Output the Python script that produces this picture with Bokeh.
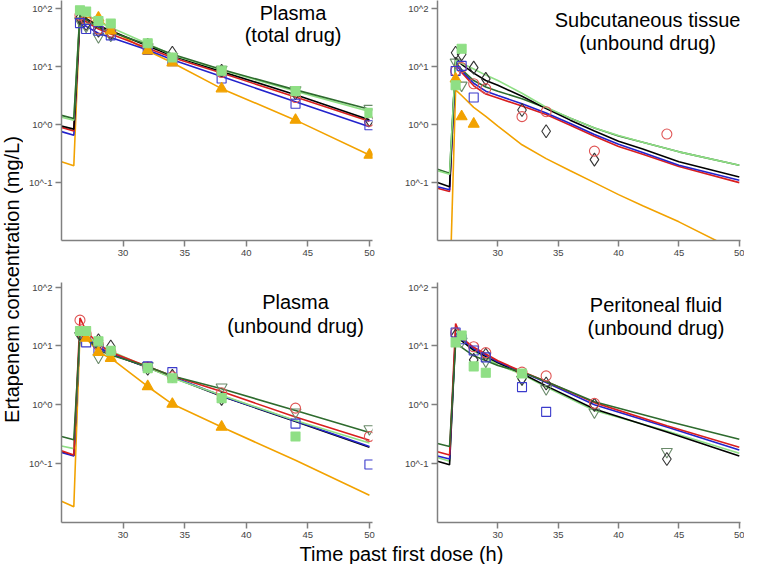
import math
from bokeh.plotting import figure
from bokeh.models import Range1d, FixedTicker, CustomJSTickFormatter, Label
from bokeh.layouts import row, column
from bokeh.embed import file_html
from bokeh.resources import INLINE

FONT = "Liberation Sans"

X_TICKS = [30, 35, 40, 45, 50]
Y_TICKS = [0.1, 1, 10, 100]

# ---------------- Plasma (total drug) ----------------
PT_CURVE_T = [25, 26, 26.5, 27, 28, 29, 32, 34, 38, 44, 50]
PT_DKGREEN = [1.45, 1.28, 85, 65, 48, 40, 24, 16.5, 9.0, 4.0, 1.85]
PT_LTGREEN = [1.35, 1.2, 95, 82, 60, 48, 25, 16, 8.8, 3.8, 1.7]
PT_BLACK = [0.95, 0.84, 80, 68, 52, 42, 23, 15.5, 8.3, 3.3, 1.22]
PT_RED = [0.9, 0.78, 75, 60, 45, 37, 21, 14.5, 7.8, 3.0, 1.15]
PT_BLUE = [0.76, 0.66, 65, 50, 38, 32, 19.5, 13.2, 6.8, 2.5, 0.92]
PT_ORANGE = [0.23, 0.195, 75, 72, 68, 44, 19, 11.8, 4.2, 1.2, 0.3]

PT_OBS_T = [26.5, 27, 28, 29, 32, 34, 38, 44, 50]
PT_OBS_LTGREEN = [95, 90, 62, 56, 25.5, 14.5, 8.6, 3.8, 1.6]
PT_OBS_BLUE = [57, 45, 42, 35, 19.5, 12.5, 6.3, 2.3, 0.98]
PT_OBS_RED = [78, 65, 45, 40, 22, 14, 8, 2.95, 1.15]
PT_OBS_BLACK = [70, 55, 42, 38, 24, 17.5, 8.5, 3.5, 1.2]
PT_OBS_DKGREEN = [62, 50, 33, 35, 22, 15, 9, 4, 1.9]
PT_OBS_ORANGE_T = [28, 29, 32, 34, 38, 44, 50]
PT_OBS_ORANGE = [70, 42, 19, 11.8, 4.2, 1.2, 0.3]

# ---------------- Subcutaneous tissue (unbound) ----------------
SC_CURVE_T = [25, 26, 26.5, 27, 28, 29, 30, 32, 34, 36, 38, 40, 42, 45, 50]
SC_LTGREEN = [0.16, 0.14, 13, 11.5, 9.2, 7.2, 5.8, 3.5, 2.0, 1.3, 0.88, 0.65, 0.5, 0.34, 0.2]
SC_DKGREEN = [0.17, 0.145, 12, 9.0, 5.8, 4.5, 3.8, 2.8, 1.95, 1.3, 0.88, 0.64, 0.5, 0.34, 0.2]
SC_BLACK = [0.1, 0.085, 14.5, 11, 7.8, 5.8, 4.8, 3.1, 1.9, 1.2, 0.78, 0.52, 0.38, 0.23, 0.125]
SC_BLUE = [0.085, 0.075, 11, 8.5, 5.2, 3.8, 3.2, 2.3, 1.6, 1.05, 0.68, 0.46, 0.33, 0.2, 0.11]
SC_RED = [0.08, 0.07, 12, 8.0, 4.7, 3.4, 2.9, 2.1, 1.5, 0.98, 0.63, 0.42, 0.31, 0.19, 0.1]
SC_ORANGE = [0.001, 0.001, 4.0, 3.2, 2.0, 1.4, 0.95, 0.45, 0.26, 0.16, 0.1, 0.062, 0.04, 0.021, 0.0063]

SC_OBS_BLACK_T = [26.5, 27, 28, 29, 32, 34, 38]
SC_OBS_BLACK = [17.5, 16.5, 9.7, 6.2, 1.8, 0.77, 0.25]
SC_OBS_RED_T = [26.5, 27, 28, 29, 32, 34, 38, 44]
SC_OBS_RED = [8.5, 9.7, 5.1, 4.2, 1.38, 1.68, 0.35, 0.69]
SC_OBS_BLUE_T = [26.5, 27, 28]
SC_OBS_BLUE = [8.5, 10.4, 2.95]
SC_OBS_LTGREEN_T = [26.5, 27]
SC_OBS_LTGREEN = [4.8, 20.5]
SC_OBS_ORANGE_T = [26.5, 27, 28]
SC_OBS_ORANGE = [6.2, 1.38, 1.03]
SC_OBS_DKGREEN_T = [26.5, 27]
SC_OBS_DKGREEN = [12, 4.8]

# ---------------- Plasma (unbound drug) ----------------
PU_CURVE_T = [25, 26, 26.5, 27, 28, 29, 32, 34, 38, 44, 50]
PU_DKGREEN = [0.29, 0.255, 18, 14, 8.5, 7.0, 4.5, 3.1, 1.87, 0.8, 0.34]
PU_LTGREEN = [0.2, 0.18, 17, 15, 10.5, 8.2, 4.3, 2.85, 1.45, 0.54, 0.225]
PU_BLACK = [0.16, 0.138, 17, 14, 9.5, 7.3, 4.3, 2.95, 1.4, 0.52, 0.19]
PU_BLUE = [0.155, 0.135, 17, 14, 9.5, 7.3, 4.4, 3.0, 1.42, 0.53, 0.195]
PU_RED = [0.165, 0.14, 30, 18, 10.8, 7.8, 4.5, 3.1, 1.68, 0.62, 0.25]
PU_ORANGE = [0.023, 0.0185, 16, 13.6, 7.8, 6.2, 2.05, 1.03, 0.42, 0.114, 0.029]

PU_OBS_RED_T = [26.5, 27, 28, 29, 32, 34, 38, 44, 50]
PU_OBS_RED = [27.5, 16, 10.5, 8.0, 4.4, 3.0, 1.6, 0.88, 0.29]
PU_OBS_LTGREEN_T = [26.5, 27, 28, 29, 32, 34, 38, 44]
PU_OBS_LTGREEN = [18, 18, 12, 8.3, 4.2, 2.83, 1.3, 0.29]
PU_OBS_BLUE_T = [27, 28, 32, 34, 44, 50]
PU_OBS_BLUE = [11.5, 9.0, 4.5, 3.6, 0.48, 0.097]
PU_OBS_BLACK_T = [26.5, 28, 29, 32, 34, 38]
PU_OBS_BLACK = [16, 12.5, 9.8, 4.1, 3.1, 1.26]
PU_OBS_DKGREEN_T = [26.5, 28, 32, 38, 44, 50]
PU_OBS_DKGREEN = [15, 6.4, 4.6, 1.99, 0.75, 0.39]
PU_OBS_ORANGE_T = [27, 28, 29, 32, 34, 38]
PU_OBS_ORANGE = [13.6, 7.8, 6.2, 2.05, 1.03, 0.42]

# ---------------- Peritoneal fluid (unbound drug) ----------------
PF_CURVE_T = [25, 26, 26.5, 27, 28, 30, 32, 34, 38, 44, 50]
PF_DKGREEN = [0.22, 0.196, 10.8, 9.5, 6.8, 4.66, 3.6, 2.5, 1.13, 0.53, 0.26]
PF_RED = [0.16, 0.14, 24, 13.8, 9.5, 5.6, 3.7, 2.5, 1.09, 0.44, 0.19]
PF_BLUE = [0.135, 0.12, 16.7, 13, 9.0, 5.4, 3.6, 2.4, 1.0, 0.42, 0.17]
PF_BLACK = [0.11, 0.096, 14.7, 12.2, 8.5, 5.2, 3.4, 2.1, 0.85, 0.345, 0.135]
PF_LTGREEN = [0.127, 0.11, 15.7, 12.5, 8.2, 4.8, 3.3, 2.0, 0.8, 0.36, 0.15]

PF_OBS_RED_T = [26.5, 28, 29, 32, 34, 38]
PF_OBS_RED = [16.7, 9.7, 7.7, 3.6, 3.1, 1.06]
PF_OBS_BLUE_T = [26.5, 27, 28, 29, 32, 34]
PF_OBS_BLUE = [17, 13, 8.4, 6.4, 2.0, 0.76]
PF_OBS_LTGREEN_T = [26.5, 27, 28, 29, 32]
PF_OBS_LTGREEN = [11.5, 15.1, 4.5, 3.5, 3.4]
PF_OBS_BLACK_T = [26.5, 28, 29, 32, 34, 38, 44]
PF_OBS_BLACK = [15, 5.8, 7.1, 2.8, 2.3, 1.0, 0.12]
PF_OBS_DKGREEN_T = [27, 29, 32, 34, 38, 44]
PF_OBS_DKGREEN = [12, 5.5, 2.7, 1.87, 0.75, 0.16]

# ---------------- styles ----------------
LINE_COL = {
    "black": "#000000", "red": "#d91e1e", "blue": "#2323cc",
    "dkgreen": "#2e6b2e", "ltgreen": "#8fdf85", "orange": "#f2a200",
}
MARK = {
    "black": dict(marker="diamond", size=13, fill_color=None, line_color="#333333"),
    "red": dict(marker="circle", size=10, fill_color=None, line_color="#e05555"),
    "blue": dict(marker="square", size=9, fill_color=None, line_color="#3b3bcc"),
    "dkgreen": dict(marker="inverted_triangle", size=11, fill_color=None, line_color="#6a8a6a"),
    "ltgreen": dict(marker="square", size=9, fill_color="#8fdf85", line_color="#8fdf85"),
    "orange": dict(marker="triangle", size=11, fill_color="#f2a200", line_color="#f2a200"),
}


def make_panel(w, h, bl, br, bt, bb, xend, ytop):
    p = figure(width=w, height=h, y_axis_type="log",
               x_range=Range1d(25, xend), y_range=Range1d(0.01, ytop),
               output_backend="svg", toolbar_location=None, title=None,
               min_border_left=bl, min_border_right=br,
               min_border_top=bt, min_border_bottom=bb)
    p.outline_line_color = None
    p.xgrid.visible = False
    p.ygrid.visible = False
    p.xaxis.ticker = FixedTicker(ticks=X_TICKS, minor_ticks=[])
    p.yaxis.ticker = FixedTicker(ticks=Y_TICKS, minor_ticks=[])
    p.yaxis.formatter = CustomJSTickFormatter(
        code="const e = Math.round(Math.log10(tick)); return '10^' + (e < 0 ? '-' + (-e) : e);")
    for ax in (p.xaxis[0], p.yaxis[0]):
        ax.axis_line_color = "#808080"
        ax.axis_line_width = 1.5
        ax.major_tick_line_color = "#808080"
        ax.major_tick_line_width = 1.5
        ax.major_tick_out = 6
        ax.major_tick_in = 0
        ax.minor_tick_line_color = None
        ax.major_label_text_font = FONT
        ax.major_label_text_font_size = "9.5px"
        ax.major_label_text_color = "#444444"
        ax.major_label_standoff = 3
    return p


def add_curves(p, t, curves):
    for key, vals in curves:
        p.line(t, vals, line_color=LINE_COL[key], line_width=1.6)


def add_points(p, pts):
    for key, t, vals in pts:
        p.scatter(t, vals, line_width=1.1, **MARK[key])


def add_title(p, lines):
    for txt, x, y in lines:
        p.add_layout(Label(x=x, y=y, text=txt, text_align="center", text_baseline="middle",
                           text_font=FONT, text_font_size="20px", text_color="#000000"))


# Top-left
tl = make_panel(369, 268, 38, 20, 0, 28, 50.25, 140)
add_curves(tl, PT_CURVE_T, [("orange", PT_ORANGE), ("blue", PT_BLUE), ("red", PT_RED),
                            ("black", PT_BLACK), ("ltgreen", PT_LTGREEN), ("dkgreen", PT_DKGREEN)])
add_points(tl, [("dkgreen", PT_OBS_T, PT_OBS_DKGREEN), ("black", PT_OBS_T, PT_OBS_BLACK),
                ("red", PT_OBS_T, PT_OBS_RED), ("blue", PT_OBS_T, PT_OBS_BLUE),
                ("orange", PT_OBS_ORANGE_T, PT_OBS_ORANGE), ("ltgreen", PT_OBS_T, PT_OBS_LTGREEN)])
add_title(tl, [("Plasma", 43.8, 85), ("(total drug)", 43.8, 35)])

# Top-right
tr = make_panel(352, 268, 45, 4, 0, 28, 50.1, 140)
add_curves(tr, SC_CURVE_T, [("orange", SC_ORANGE), ("red", SC_RED), ("blue", SC_BLUE),
                            ("dkgreen", SC_DKGREEN), ("black", SC_BLACK), ("ltgreen", SC_LTGREEN)])
add_points(tr, [("dkgreen", SC_OBS_DKGREEN_T, SC_OBS_DKGREEN), ("black", SC_OBS_BLACK_T, SC_OBS_BLACK),
                ("red", SC_OBS_RED_T, SC_OBS_RED), ("blue", SC_OBS_BLUE_T, SC_OBS_BLUE),
                ("orange", SC_OBS_ORANGE_T, SC_OBS_ORANGE), ("ltgreen", SC_OBS_LTGREEN_T, SC_OBS_LTGREEN)])
add_title(tr, [("Subcutaneous tissue", 42.4, 64), ("(unbound drug)", 42.4, 26)])

# Bottom-left
bl = make_panel(369, 276, 38, 20, 14, 22, 50.25, 120)
add_curves(bl, PU_CURVE_T, [("orange", PU_ORANGE), ("black", PU_BLACK), ("blue", PU_BLUE),
                            ("ltgreen", PU_LTGREEN), ("red", PU_RED), ("dkgreen", PU_DKGREEN)])
add_points(bl, [("dkgreen", PU_OBS_DKGREEN_T, PU_OBS_DKGREEN), ("black", PU_OBS_BLACK_T, PU_OBS_BLACK),
                ("red", PU_OBS_RED_T, PU_OBS_RED), ("blue", PU_OBS_BLUE_T, PU_OBS_BLUE),
                ("orange", PU_OBS_ORANGE_T, PU_OBS_ORANGE), ("ltgreen", PU_OBS_LTGREEN_T, PU_OBS_LTGREEN)])
add_title(bl, [("Plasma", 44.0, 55), ("(unbound drug)", 44.0, 22)])

# Bottom-right
br = make_panel(352, 276, 45, 4, 4, 22, 50.1, 120)
add_curves(br, PF_CURVE_T, [("ltgreen", PF_LTGREEN), ("black", PF_BLACK), ("blue", PF_BLUE),
                            ("red", PF_RED), ("dkgreen", PF_DKGREEN)])
add_points(br, [("dkgreen", PF_OBS_DKGREEN_T, PF_OBS_DKGREEN), ("black", PF_OBS_BLACK_T, PF_OBS_BLACK),
                ("red", PF_OBS_RED_T, PF_OBS_RED), ("blue", PF_OBS_BLUE_T, PF_OBS_BLUE),
                ("ltgreen", PF_OBS_LTGREEN_T, PF_OBS_LTGREEN)])
add_title(br, [("Peritoneal fluid", 43.1, 50), ("(unbound drug)", 43.1, 20)])

# Shared axis titles
ylab = figure(width=23, height=544, x_range=Range1d(0, 1), y_range=Range1d(0, 1),
              x_axis_location=None, y_axis_location=None, output_backend="svg",
              toolbar_location=None, min_border=0)
ylab.grid.visible = False
ylab.outline_line_color = None
ylab.add_layout(Label(x=11 / 23, y=1 - (287 - 8) / 544, text="Ertapenem concentration (mg/L)",
                      angle=math.pi / 2, text_align="center", text_baseline="middle",
                      text_font=FONT, text_font_size="20px", text_color="#000000"))

xlab = figure(width=744, height=20, x_range=Range1d(0, 1), y_range=Range1d(0, 1),
              x_axis_location=None, y_axis_location=None, output_backend="svg",
              toolbar_location=None, min_border=0)
xlab.grid.visible = False
xlab.outline_line_color = None
xlab.add_layout(Label(x=(409 - 8) / 744, y=0.55, text="Time past first dose (h)",
                      text_align="center", text_baseline="middle",
                      text_font=FONT, text_font_size="20px", text_color="#000000"))

page = column(row(ylab, column(row(tl, tr), row(bl, br))), xlab)
open("out.html", "w").write(file_html(page, INLINE))
